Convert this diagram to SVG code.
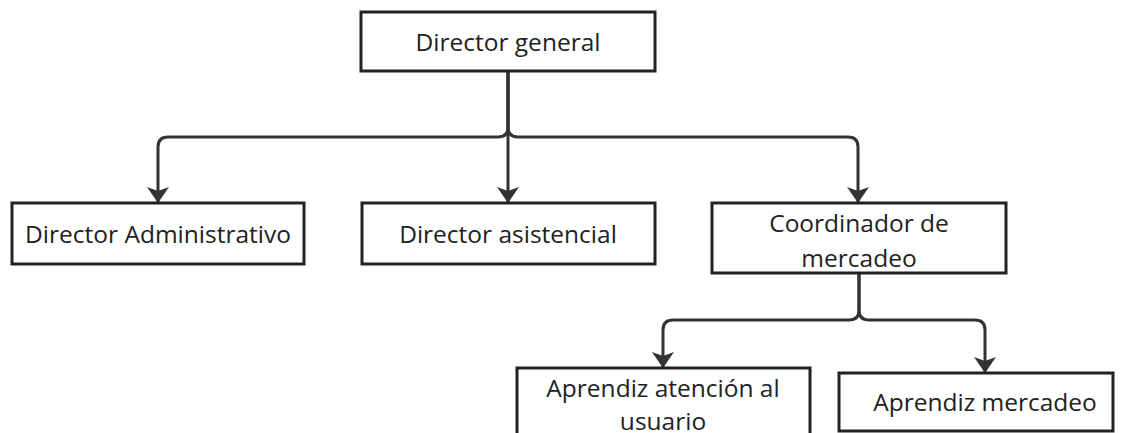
<svg xmlns="http://www.w3.org/2000/svg" width="1122" height="433" viewBox="0 0 1122 433">
<defs>
<style>
.box{fill:#fff;stroke:#222;stroke-width:3}
.t{font-family:"Open Sans","Noto Sans",sans-serif;font-size:24.5px;fill:#222;text-anchor:middle}
.c{fill:none;stroke:#333;stroke-width:3}
</style>
<marker id="ad" viewBox="0 0 22 16" refX="11" refY="15" markerWidth="22" markerHeight="16" markerUnits="userSpaceOnUse" orient="0">
<path d="M0,0 L11,4 L22,0 L11,16 Z" fill="#333"/>
</marker>
</defs>
<rect width="1122" height="433" fill="#fff"/>
<g id="connectors">
<path class="c" d="M508,71 V127 Q508,137 498,137 H168 Q158,137 158,147 V202" marker-end="url(#ad)"/>
<path class="c" d="M508,71 V127 Q508,137 518,137 H848 Q858,137 858,147 V202" marker-end="url(#ad)"/>
<path class="c" d="M508,71 V202" marker-end="url(#ad)"/>
<path class="c" d="M859,273 V310 Q859,320 849,320 H673 Q663,320 663,330 V367" marker-end="url(#ad)"/>
<path class="c" d="M859,273 V310 Q859,320 869,320 H975 Q985,320 985,330 V372" marker-end="url(#ad)"/>
</g>
<g id="n_general"><rect class="box" x="361" y="12" width="294" height="59"/><text class="t" x="508" y="51">Director general</text></g>
<g id="n_admin"><rect class="box" x="12" y="203" width="292" height="61"/><text class="t" x="158" y="243">Director Administrativo</text></g>
<g id="n_asist"><rect class="box" x="362" y="203" width="293" height="61"/><text class="t" x="508" y="243">Director asistencial</text></g>
<g id="n_coord"><rect class="box" x="712" y="203" width="294" height="70"/><text class="t" x="859" y="232">Coordinador de</text><text class="t" x="859" y="267">mercadeo</text></g>
<g id="n_aprAt"><rect class="box" x="517" y="368" width="293" height="80"/><text class="t" x="663" y="397">Aprendiz atención al</text><text class="t" x="663" y="430">usuario</text></g>
<g id="n_aprMer"><rect class="box" x="839" y="373" width="274" height="58"/><text class="t" x="985" y="411">Aprendiz mercadeo</text></g>
</svg>
